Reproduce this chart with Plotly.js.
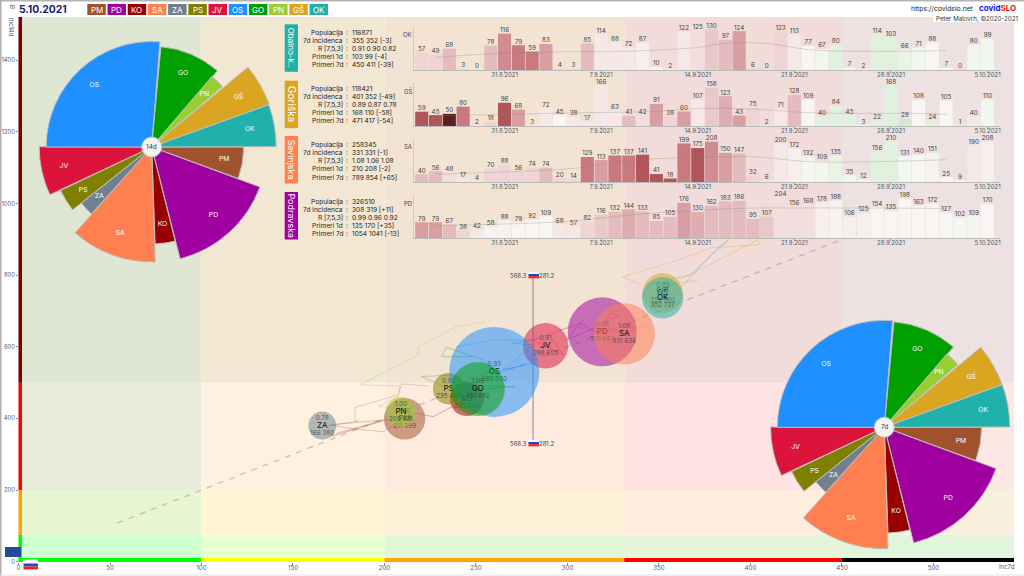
<!DOCTYPE html>
<html><head><meta charset="utf-8">
<script src="https://cdn.plot.ly/plotly-3.0.1.min.js"></script>
<style>html,body{margin:0;padding:0;background:#fff}#c{width:1024px;height:576px}</style>
</head><body><div id="c"></div>
<script>
// ---------- regions ----------
const regionCodes = ["PM","PD","KO","SA","ZA","PS","JV","OS","GO","PN","GŠ","OK"];
const regionColors = ["#a0522d","#a0009f","#990000","#ff7f50","#708090","#808000","#dc143c","#1e90ff","#00a000","#9acd32","#daa520","#20b2aa"];
// rose: centre angle + sector width (deg, clockwise from north), radii
const roseTheta = [100,138,172,200,226.7,238,257.5,317.2,23,45,60.2,80];
const roseWidth = [20,55.5,12,43.5,9.4,13,25.3,94.5,35.5,9,19.7,19.7];
const rose14 = [92,115.4,97,115,90,101,112.5,105.5,100.7,93,125,124.5];
const rose7  = [97.3,119.3,105.8,121.5,87.4,102.7,113.7,107,106,96.7,125.3,125.5];
// bubbles
const bubbleX = [211,319,245,331,166,235,288,260,251,209,352,352];
const bubbleY = [399,642,454,636,380,483,603,530,482,418,750,737];
const bubbleSize = [41.4,69,34,61.4,28,31.4,45.4,90,54,30,40,41.4];
const bubbleR = ["1.00","0.99","1.02","1.08","0.78","0.97","0.91","0.93","1.09","1.00","0.89","0.91"];
// trails
const trailsX = {
 PM:[211,199.3,181.1,170.2,199.3,173.8], PD:[319,323.1,328.5,310.3,299.4,308.5], KO:[245,226.6,217.5,201.1,170],
 SA:[331,344.9,317.6,304.9,295.8], ZA:[166,185.6,183.8,183.8,207.5,209.3,223.9], PS:[235,220.2,239.3,243],
 JV:[288,292.1,297.6,281.2,306.7,317.6], OS:[260,281.2,270.3,264.8,281.2,269.4,281.2,259.4,239.3],
 GO:[251.7,271.2,239.3,259.4,253.9,233.9,231.2,248.4], PN:[209,212,196.6,207.5,208.4,186.6,218.4,218.4,239.3,255.7],
 "GŠ":[352,330,361,378,405,404,356,372], OK:[352,361,382,388,367,345]};
const trailsY = {
 PM:[399,363,372.5,381.9,395.8,358.6], PD:[640,693.7,689,642.5,619,675], KO:[455,405,414.4,396,349],
 SA:[635,661,638,656.5,647], ZA:[377,393,396,431,465.6,496.4,490.8], PS:[483,517,521.5,498],
 JV:[602,619,577.4,619,665.8,638], OS:[530,554,540,535.5,605.3,610,619,619,600.6],
 GO:[479.6,489,493.6,535.5,563.4,598.8,572.7,572.7], PN:[414,428.4,433,461,490.8,493.6,577.4,600.6,656.5,670.5],
 "GŠ":[750,795,843,876,885,899,773,787], OK:[740,759,876,899,801,773]};
// zones
const zoneX = [0,100,200,331,450,544];
const zoneY = [0,75,200,500,1521];
const zoneColors = [
 ["#d0ffd0","#e8ffd0","#e0f8d5","#e4f5da","#e0f5dc"],
 ["#e8f5d3","#fff5d3","#fff0d8","#ffeedd","#f8efdd"],
 ["#e8eada","#fff1df","#ffeade","#ffe3e3","#fbe8e3"],
 ["#dfe7d4","#f2e7d2","#f3e3d3","#f2dcd9","#ede1e1"]];
const bottomStrip = ["#00ff00","#ffff00","#ffa500","#ff0000","#000000"];
const leftStrip = ["#00ff00","#ffa500","#ff0000","#800000"];
const xTicks = [0,50,100,150,200,250,300,350,400,450,500];
const yTicks = [0,200,400,600,800,1000,1200,1400];
const dashedX = [54,460], dashedY = [108,920];
const nationalX = [281.2,281.2], nationalY = [331.6,800];
// daily panels
const dates = ["25.8.2021","26.8.2021","27.8.2021","28.8.2021","29.8.2021","30.8.2021","31.8.2021","1.9.2021","2.9.2021","3.9.2021","4.9.2021","5.9.2021","6.9.2021","7.9.2021","8.9.2021","9.9.2021","10.9.2021","11.9.2021","12.9.2021","13.9.2021","14.9.2021","15.9.2021","16.9.2021","17.9.2021","18.9.2021","19.9.2021","20.9.2021","21.9.2021","22.9.2021","23.9.2021","24.9.2021","25.9.2021","26.9.2021","27.9.2021","28.9.2021","29.9.2021","30.9.2021","1.10.2021","2.10.2021","3.10.2021","4.10.2021","5.10.2021"];
const weekTicks = ["31.8.2021","7.9.2021","14.9.2021","21.9.2021","28.9.2021","5.10.2021"];
const casesOK = [57,49,68,3,0,78,116,79,59,83,4,3,85,114,88,72,87,10,2,122,125,130,97,124,6,0,123,113,77,67,80,7,2,114,103,66,71,88,7,0,80,99];
const casesGS = [59,45,50,80,2,18,96,68,3,72,45,38,17,166,63,41,42,91,38,60,107,158,123,43,75,2,71,128,109,40,84,45,3,22,168,29,108,24,105,1,40,110];
const casesSA = [40,56,48,17,4,70,88,56,74,74,20,14,129,113,137,137,141,41,18,199,175,208,150,147,32,6,200,172,132,109,135,35,12,156,210,131,140,151,25,9,190,208];
const casesPD = [79,79,67,38,42,58,88,79,92,109,68,57,82,116,132,144,133,85,105,176,130,162,183,186,95,107,204,156,168,178,188,106,125,154,135,198,163,172,127,102,109,170];
// bar shade: + red strength, - green strength
const shadeOK = [2,2,3,2,0,3,4.5,5,5,4,2,2,3,1,1,1,.5,.3,0,1,1.5,2.5,3,4,2,0,2,1,0,-1,-2,-1,0,-2,-2,-1.5,-1,0,0,0,-1,-1];
const shadeGS = [6,6,7,5,1,2,6,4,1,1,0,1,1,1,1,3,1.5,4,2,4,1,2.5,3.5,4,2,1,1,3,0,-2,-2,-2,0,-2,-2,-3,0,-2,0,0,1,-1];
const shadeSA = [3,3,1.5,1,1,2,2,2,2,3,2,2,5,4,5,5,6,6,6,5,6,4.5,4,3,2,1,1,.5,-.5,-1,-1.5,-1,-1,-2,-2,-.5,0,.3,0,0,1,.5];
const shadePD = [4,4,3,2,1,.3,.3,0,0,0,1,1,2,2.5,3,3.5,3,3,3,4,3.5,3,3,3,3,2.5,1.5,1.5,1.5,.5,.3,.5,.5,0,0,0,0,0,0,-.5,-.5,0];
// grey 7-day line, read at a few days
const avgDaysOK = [1,5,10,15,20,22,25,28,31,35,38], avgOK = [40,52,58,60,72,85,85,65,60,60,62];
const avgDaysGS = [1,6,12,17,20,24,28,32,36,38], avgGS = [42,48,55,60,72,70,55,52,52,48];
const avgDaysSA = [1,6,11,15,19,24,28,33,38], avgSA = [40,52,70,110,125,130,105,105,115];
const avgDaysPD = [1,6,11,15,19,24,28,33,38], avgPD = [62,70,85,115,135,150,150,150,148];
// tables
const tableLabels = ["Populacija","7d incidenca","R [7,5,3]","Primeri 1d","Primeri 7d"];
const panelNames = ["Obalno-k..","Goriška","Savinjska","Podravska"];
const panelCodes = ["OK","GŠ","SA","PD"];
const panelColors = ["#20b2aa","#daa520","#ff7f50","#a0009f"];
const tableOK = ["116871","355 352 [-3]","0.91 0.90 0.82","103 99 [-4]","450 411 [-39]"];
const tableGS = ["118421","401 352 [-49]","0.89 0.87 0.78","168 110 [-58]","471 417 [-54]"];
const tableSA = ["258345","331 331 [-1]","1.08 1.06 1.08","210 208 [-2]","789 854 [+65]"];
const tablePD = ["326510","308 319 [+11]","0.99 0.96 0.92","135 170 [+35]","1054 1041 [-13]"];

// ---------- helpers ----------
const FONT = "Inter, Roboto, sans-serif";
const TICK = "#4a5a66";
const X = p => p/1024, Y = p => 1-p/576;
const shapes = [], ann = [], traces = [];
function note(px,py,text,o={}){ann.push(Object.assign({xref:"paper",yref:"paper",x:X(px),y:Y(py),text,showarrow:false,xanchor:"center",yanchor:"middle",borderpad:0,font:{family:FONT,size:7,color:"#222"}},o));}
function rect(x0,y0,x1,y1,fill,o={}){shapes.push(Object.assign({type:"rect",xref:"paper",yref:"paper",x0:X(x0),x1:X(x1),y0:Y(y0),y1:Y(y1),fillcolor:fill,line:{width:0}},o));}
function flag(x,y,w,h){const s=h/3;rect(x,y,x+w,y+s,"#ffffff",{layer:"above"});rect(x,y+s,x+w,y+2*s,"#2244cc",{layer:"above"});rect(x,y+2*s,x+w,y+h,"#ee2222",{layer:"above"});}
const stops=[[0,[248,245,243]],[1,[245,232,230]],[2,[238,212,212]],[3,[228,188,190]],[4,[216,158,162]],[5,[200,122,126]],[6,[176,86,90]],[7,[92,34,36]]];
const greens=[[0,[248,245,243]],[1,[240,247,236]],[2,[224,242,222]],[3,[208,234,206]]];
function shade(v){const t=v<0?greens:stops,a=Math.abs(v),i=Math.min(Math.floor(a),t.length-2),f=a-i;
 const c=t[i][1].map((q,k)=>Math.round(q+(t[i+1][1][k]-q)*f));return `rgb(${c.join(",")})`;}

// ---------- zones ----------
zoneColors.forEach((row,j)=>row.forEach((c,i)=>shapes.push({type:"rect",xref:"x",yref:"y",layer:"below",x0:zoneX[i],x1:zoneX[i+1],y0:zoneY[j],y1:zoneY[j+1],fillcolor:c,line:{width:0}})));
bottomStrip.forEach((c,i)=>shapes.push({type:"rect",xref:"x",yref:"paper",x0:zoneX[i],x1:zoneX[i+1],y0:Y(562),y1:Y(558),fillcolor:c,line:{width:0}}));
leftStrip.forEach((c,j)=>shapes.push({type:"rect",xref:"paper",yref:"y",x0:X(18.5),x1:X(22),y0:zoneY[j],y1:zoneY[j+1],fillcolor:c,line:{width:0}}));
// page frame
rect(0,0,1024,1.5,"#b4b4b4",{layer:"above"});
rect(0,0,1.5,576,"#b0b0b0",{layer:"above"});
rect(0,574.5,1024,575.5,"#e4e4e4",{layer:"above"});

// ---------- main scatter ----------
traces.push({type:"scatter",mode:"lines",x:dashedX,y:dashedY,line:{color:"rgba(120,120,110,.38)",width:1.4,dash:"6px,6px"},hoverinfo:"skip",showlegend:false});
regionCodes.forEach((c,i)=>traces.push({type:"scatter",mode:"lines",x:trailsX[c],y:trailsY[c],line:{color:regionColors[i],width:.7},opacity:.45,hoverinfo:"skip",showlegend:false}));
traces.push({type:"scatter",mode:"lines",x:nationalX,y:nationalY,line:{color:"#aaa",width:1.5},hoverinfo:"skip",showlegend:false});
const lineGap = 21; // text line spacing in y-axis units
regionCodes.forEach((c,i)=>{
 traces.push({type:"scatter",mode:"markers",x:[bubbleX[i]],y:[bubbleY[i]],marker:{size:bubbleSize[i],color:regionColors[i],opacity:.52,line:{width:0}},hoverinfo:"skip",showlegend:false});
 traces.push({type:"scatter",mode:"text",x:[bubbleX[i],bubbleX[i]],y:[bubbleY[i]+lineGap,bubbleY[i]-lineGap],text:[bubbleR[i],bubbleX[i]+" "+bubbleY[i]],textposition:"middle center",textfont:{family:FONT,size:6.3,color:"rgba(50,70,70,.85)"},hoverinfo:"skip",showlegend:false});
 traces.push({type:"scatter",mode:"text",x:[bubbleX[i]],y:[bubbleY[i]],text:[c],textposition:"middle center",textfont:{family:FONT,size:8,color:"#111"},hoverinfo:"skip",showlegend:false});
});

// ---------- roses ----------
function rose(sub,r,cx,cy,label){
 traces.push({type:"barpolar",subplot:sub,theta:roseTheta,width:roseWidth,r:r,marker:{color:regionColors,line:{color:"#bdbdbd",width:1}},hoverinfo:"skip",showlegend:false});
 traces.push({type:"scatterpolar",subplot:sub,mode:"text",theta:roseTheta,r:r.map(v=>v*.8),text:regionCodes,textfont:{family:FONT,size:6.8,color:"#fff"},hoverinfo:"skip",showlegend:false});
 shapes.push({type:"circle",xref:"paper",yref:"paper",layer:"above",x0:X(cx-10),x1:X(cx+10),y0:Y(cy+10),y1:Y(cy-10),fillcolor:"#f3f3f3",line:{color:"#c4c4c4",width:1}});
 note(cx,cy,label,{font:{family:FONT,size:6.5,color:"#444"}});
}
rose("polar",rose14,151.7,147,"14d");
rose("polar2",rose7,884.3,427.3,"7d");
function polar(cx,cy){return {domain:{x:[X(cx-130),X(cx+130)],y:[Y(cy+130),Y(cy-130)]},bgcolor:"rgba(0,0,0,0)",radialaxis:{visible:false,range:[0,130]},angularaxis:{visible:false,rotation:90,direction:"clockwise"}};}

// ---------- daily panels ----------
const panelSeries=[[casesOK,shadeOK,avgDaysOK,avgOK,tableOK],[casesGS,shadeGS,avgDaysGS,avgGS,tableGS],[casesSA,shadeSA,avgDaysSA,avgSA,tableSA],[casesPD,shadePD,avgDaysPD,avgPD,tablePD]];
const panelBase=[70,126,182,238], panelTag=[24.3,80.7,136,192], tableTop=[33,89,145.3,201.6], tagFont=[8,10,9,9];
const axes={};
panelSeries.forEach((s,k)=>{
 const n=k+2,xa="x"+n,ya="y"+n,mx=Math.max(...s[0]),top=mx*1.08;
 traces.push({type:"bar",xaxis:xa,yaxis:ya,x:dates,y:s[0],width:.95,marker:{color:s[1].map(shade),line:{width:0}},hoverinfo:"skip",showlegend:false});
 traces.push({type:"scatter",mode:"lines",xaxis:xa,yaxis:ya,x:s[2].map(i=>dates[i]),y:s[3],line:{color:"rgba(130,130,130,.42)",width:.7,shape:"spline"},hoverinfo:"skip",showlegend:false});
 traces.push({type:"scatter",mode:"text",xaxis:xa,yaxis:ya,x:dates,y:s[0],text:s[0].map(String),textposition:"top center",cliponaxis:false,textfont:{family:FONT,size:6.3,color:"#444"},hoverinfo:"skip",showlegend:false});
 axes["xaxis"+n]={domain:[X(414),X(1000)],anchor:ya,type:"category",categoryorder:"array",categoryarray:dates,range:[-.56,41.9],tickmode:"array",tickvals:weekTicks,ticktext:weekTicks,tickfont:{family:FONT,size:6,color:TICK},ticks:"outside",ticklen:2,tickcolor:"#999",ticklabelstandoff:-3,showgrid:false,zeroline:false,showline:true,linecolor:"#bbb",linewidth:1,automargin:false};
 axes["yaxis"+n]={domain:[Y(panelBase[k]),Y(panelBase[k]-44)],anchor:xa,range:[0,top],tickmode:"array",tickvals:[mx],ticktext:[String(mx)],ticks:"",ticklabelposition:"inside",tickfont:{family:FONT,size:6,color:"#aaa"},showgrid:false,zeroline:false,showline:true,linecolor:"#ccc",linewidth:1,automargin:false};
 note(407.7,panelBase[k]-35,panelCodes[k],{font:{family:FONT,size:6,color:"#445"}});
 rect(284.7,panelTag[k],298,panelTag[k]+47.5,panelColors[k]);
 note(291.3,panelTag[k]+23.7,panelNames[k],{textangle:90,font:{family:FONT,size:tagFont[k],color:"#fff"}});
 tableLabels.forEach((l,r)=>{
  const y=tableTop[k]+r*8.05;
  note(343.5,y,l,{xanchor:"right",font:{family:FONT,size:6.6,color:"#222"}});
  note(347,y,":",{font:{family:FONT,size:6.6,color:"#222"}});
  note(351,y,s[4][r],{xanchor:"left",font:{family:FONT,size:6.6,color:"#222"}});
 });
});

// ---------- header ----------
regionCodes.forEach((c,i)=>{
 const x0=87.3+i*20.2;
 rect(x0,4,x0+18.5,15,regionColors[i]);
 note(x0+9.25,9.7,c,{font:{family:FONT,size:8,color:"#fff"}});
});
note(13,7,"to",{font:{family:FONT,size:5.5,color:"#333"}});
note(18,9.3,"<b>5.10.2021</b>",{xanchor:"left",font:{family:FONT,size:10.3,color:"#14207a"}});
note(975,8.5,"https://covidslo.net",{xanchor:"right",font:{family:FONT,size:6.8,color:"#222"}});
note(978,8.5,"<b><span style='color:#1010ee'>covid</span><span style='color:#ee1111'>SLO</span></b>",{xanchor:"left",font:{family:FONT,size:8}});
rect(933,14.5,1020,22,"#ffffff",{layer:"above"});
note(1019,18.2,"Peter Malovrh, ©2020-2021",{xanchor:"right",font:{family:FONT,size:6.2,color:"#333"}});
note(12,27,"Inc14d",{textangle:90,font:{family:FONT,size:6,color:TICK}});
note(1007,566.8,"Inc7d",{font:{family:FONT,size:6,color:TICK}});

// national labels + flags
[275,443].forEach(y=>{
 flag(528.5,y-3.2,10.5,6.5);
 note(518,y,"568.3",{font:{family:FONT,size:6,color:"#445"}});
 note(547,y,"281.2",{font:{family:FONT,size:6,color:"#445"}});
});
// axis flags
rect(23,559.5,38,569.5,"#ffffff",{layer:"above"});
flag(23.5,560.5,14.5,9);
rect(5,547,21,557,"#234a9e",{layer:"above"});

const layout=Object.assign({
 width:1024,height:576,margin:{l:0,r:0,t:0,b:0},paper_bgcolor:"#fff",plot_bgcolor:"rgba(0,0,0,0)",showlegend:false,barmode:"overlay",
 xaxis:{domain:[X(18.5),X(1014)],range:[0,544],anchor:"y",tickmode:"array",tickvals:xTicks,ticks:"outside",ticklen:2,ticklabelstandoff:-2,tickcolor:"#888",tickfont:{family:FONT,size:6.2,color:TICK},showgrid:false,zeroline:false,automargin:false},
 yaxis:{domain:[Y(561.7),Y(17)],range:[0,1521],anchor:"x",tickmode:"array",tickvals:yTicks,ticks:"outside",ticklen:1.5,tickcolor:"#888",tickfont:{family:FONT,size:5.8,color:TICK},showgrid:false,zeroline:false,automargin:false},
 polar:polar(151.7,147),polar2:polar(884.3,427.3),shapes,annotations:ann},axes);
Plotly.newPlot("c",traces,layout,{staticPlot:true,displayModeBar:false});
</script></body></html>
